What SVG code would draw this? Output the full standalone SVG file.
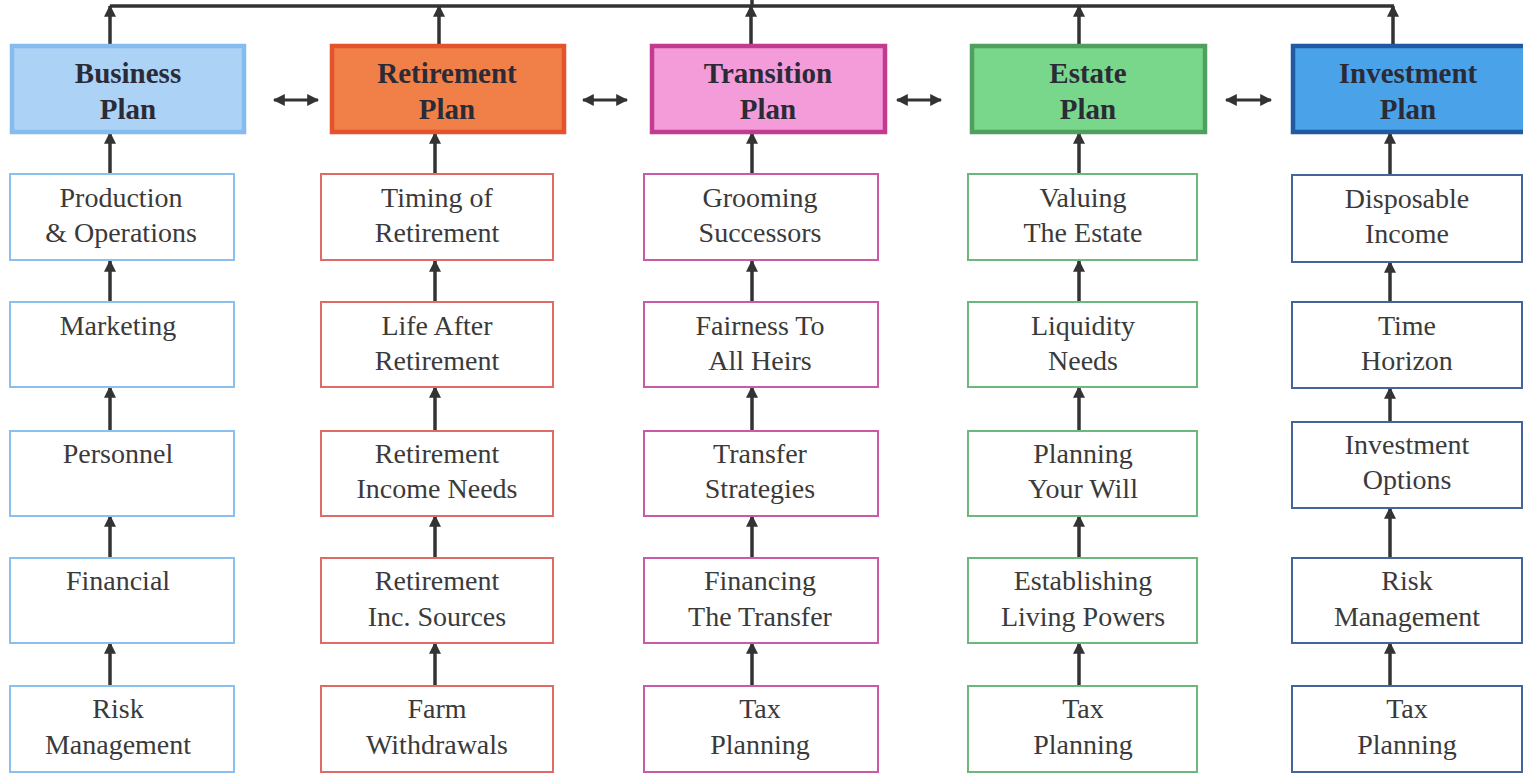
<svg xmlns="http://www.w3.org/2000/svg" width="1523" height="775" viewBox="0 0 1523 775">
<defs>
<marker id="ah" viewBox="0 0 10 10" refX="9" refY="5" markerWidth="12" markerHeight="12" markerUnits="userSpaceOnUse" orient="auto-start-reverse"><path d="M0,0 L10,5 L0,10 z" fill="#333"/></marker>
<style>
.hd{stroke-width:4.5}
.bx{fill:#fff;stroke-width:2}
.ht{font-family:"Liberation Serif",serif;font-weight:bold;font-size:29px;fill:#2b2b38;text-anchor:middle}
.t{font-family:"Liberation Serif",serif;font-size:28px;fill:#3a3a3a;text-anchor:middle}
.c{stroke:#333;stroke-width:3.5;fill:none}
.ca{stroke:#333;stroke-width:3.5;fill:none;marker-end:url(#ah)}
.cd{stroke:#333;stroke-width:3;fill:none;marker-end:url(#ah);marker-start:url(#ah)}
.b1{stroke:#8cc0ec}.b2{stroke:#e06a66}.b3{stroke:#c85aa8}.b4{stroke:#6cb87c}.b5{stroke:#44649e}
</style>
</defs>
<rect width="1523" height="775" fill="#fff"/>
<g id="connectors">
<path class="c" d="M110,6 H1394"/>
<path class="c" d="M752,0 V6"/>
<path class="ca" d="M110,45 V6"/>
<path class="ca" d="M439,45 V6"/>
<path class="ca" d="M751,45 V6"/>
<path class="ca" d="M1079,45 V6"/>
<path class="ca" d="M1393,45 V6"/>
<path class="cd" d="M274,100 H318"/>
<path class="cd" d="M583,100 H627"/>
<path class="cd" d="M897,100 H941"/>
<path class="cd" d="M1226,100 H1271"/>
<path class="ca" d="M110,173 V133"/><path class="ca" d="M110,301 V261"/><path class="ca" d="M110,430 V387"/><path class="ca" d="M110,557 V516"/><path class="ca" d="M110,685 V643"/>
<path class="ca" d="M435,173 V133"/><path class="ca" d="M435,301 V261"/><path class="ca" d="M435,430 V387"/><path class="ca" d="M435,557 V516"/><path class="ca" d="M435,685 V643"/>
<path class="ca" d="M752,173 V133"/><path class="ca" d="M752,301 V261"/><path class="ca" d="M752,430 V387"/><path class="ca" d="M752,557 V516"/><path class="ca" d="M752,685 V643"/>
<path class="ca" d="M1079,173 V133"/><path class="ca" d="M1079,301 V261"/><path class="ca" d="M1079,430 V387"/><path class="ca" d="M1079,557 V516"/><path class="ca" d="M1079,685 V643"/>
<path class="ca" d="M1390,174 V133"/><path class="ca" d="M1390,301 V262"/><path class="ca" d="M1390,421 V388"/><path class="ca" d="M1390,557 V508"/><path class="ca" d="M1390,685 V643"/>
</g>
<g id="business-plan"><rect class="hd" x="12" y="46" width="232" height="86" fill="#acd2f6" stroke="#84bcf0"/><text class="ht" x="128" y="83">Business</text><text class="ht" x="128" y="119">Plan</text></g>
<g id="retirement-plan"><rect class="hd" x="332" y="46" width="232" height="86" fill="#f08048" stroke="#e4522e"/><text class="ht" x="447" y="83">Retirement</text><text class="ht" x="447" y="119">Plan</text></g>
<g id="transition-plan"><rect class="hd" x="652" y="46" width="233" height="86" fill="#f39cd9" stroke="#c33b8e"/><text class="ht" x="768" y="83">Transition</text><text class="ht" x="768" y="119">Plan</text></g>
<g id="estate-plan"><rect class="hd" x="972" y="46" width="233" height="86" fill="#78d78b" stroke="#4fa05e"/><text class="ht" x="1088" y="83">Estate</text><text class="ht" x="1088" y="119">Plan</text></g>
<g id="investment-plan"><rect class="hd" x="1293" y="46" width="234" height="86" fill="#4aa3e8" stroke="#1f5aa2"/><text class="ht" x="1408" y="83">Investment</text><text class="ht" x="1408" y="119">Plan</text></g>

<g id="b-production"><rect class="bx b1" x="10" y="174" width="224" height="86"/><text class="t" x="121" y="207">Production</text><text class="t" x="121" y="242">&amp; Operations</text></g>
<g id="b-marketing"><rect class="bx b1" x="10" y="302" width="224" height="85"/><text class="t" x="118" y="335">Marketing</text></g>
<g id="b-personnel"><rect class="bx b1" x="10" y="431" width="224" height="85"/><text class="t" x="118" y="463">Personnel</text></g>
<g id="b-financial"><rect class="bx b1" x="10" y="558" width="224" height="85"/><text class="t" x="118" y="590">Financial</text></g>
<g id="b-risk"><rect class="bx b1" x="10" y="686" width="224" height="86"/><text class="t" x="118" y="718">Risk</text><text class="t" x="118" y="754">Management</text></g>

<g id="r-timing"><rect class="bx b2" x="321" y="174" width="232" height="86"/><text class="t" x="437" y="207">Timing of</text><text class="t" x="437" y="242">Retirement</text></g>
<g id="r-life"><rect class="bx b2" x="321" y="302" width="232" height="85"/><text class="t" x="437" y="335">Life After</text><text class="t" x="437" y="370">Retirement</text></g>
<g id="r-income-needs"><rect class="bx b2" x="321" y="431" width="232" height="85"/><text class="t" x="437" y="463">Retirement</text><text class="t" x="437" y="498">Income Needs</text></g>
<g id="r-income-sources"><rect class="bx b2" x="321" y="558" width="232" height="85"/><text class="t" x="437" y="590">Retirement</text><text class="t" x="437" y="626">Inc. Sources</text></g>
<g id="r-farm"><rect class="bx b2" x="321" y="686" width="232" height="86"/><text class="t" x="437" y="718">Farm</text><text class="t" x="437" y="754">Withdrawals</text></g>

<g id="t-grooming"><rect class="bx b3" x="644" y="174" width="234" height="86"/><text class="t" x="760" y="207">Grooming</text><text class="t" x="760" y="242">Successors</text></g>
<g id="t-fairness"><rect class="bx b3" x="644" y="302" width="234" height="85"/><text class="t" x="760" y="335">Fairness To</text><text class="t" x="760" y="370">All Heirs</text></g>
<g id="t-transfer"><rect class="bx b3" x="644" y="431" width="234" height="85"/><text class="t" x="760" y="463">Transfer</text><text class="t" x="760" y="498">Strategies</text></g>
<g id="t-financing"><rect class="bx b3" x="644" y="558" width="234" height="85"/><text class="t" x="760" y="590">Financing</text><text class="t" x="760" y="626">The Transfer</text></g>
<g id="t-tax"><rect class="bx b3" x="644" y="686" width="234" height="86"/><text class="t" x="760" y="718">Tax</text><text class="t" x="760" y="754">Planning</text></g>

<g id="e-valuing"><rect class="bx b4" x="968" y="174" width="229" height="86"/><text class="t" x="1083" y="207">Valuing</text><text class="t" x="1083" y="242">The Estate</text></g>
<g id="e-liquidity"><rect class="bx b4" x="968" y="302" width="229" height="85"/><text class="t" x="1083" y="335">Liquidity</text><text class="t" x="1083" y="370">Needs</text></g>
<g id="e-will"><rect class="bx b4" x="968" y="431" width="229" height="85"/><text class="t" x="1083" y="463">Planning</text><text class="t" x="1083" y="498">Your Will</text></g>
<g id="e-powers"><rect class="bx b4" x="968" y="558" width="229" height="85"/><text class="t" x="1083" y="590">Establishing</text><text class="t" x="1083" y="626">Living Powers</text></g>
<g id="e-tax"><rect class="bx b4" x="968" y="686" width="229" height="86"/><text class="t" x="1083" y="718">Tax</text><text class="t" x="1083" y="754">Planning</text></g>

<g id="i-disposable"><rect class="bx b5" x="1292" y="175" width="230" height="87"/><text class="t" x="1407" y="208">Disposable</text><text class="t" x="1407" y="243">Income</text></g>
<g id="i-time"><rect class="bx b5" x="1292" y="302" width="230" height="86"/><text class="t" x="1407" y="335">Time</text><text class="t" x="1407" y="370">Horizon</text></g>
<g id="i-options"><rect class="bx b5" x="1292" y="422" width="230" height="86"/><text class="t" x="1407" y="454">Investment</text><text class="t" x="1407" y="489">Options</text></g>
<g id="i-risk"><rect class="bx b5" x="1292" y="558" width="230" height="85"/><text class="t" x="1407" y="590">Risk</text><text class="t" x="1407" y="626">Management</text></g>
<g id="i-tax"><rect class="bx b5" x="1292" y="686" width="230" height="86"/><text class="t" x="1407" y="718">Tax</text><text class="t" x="1407" y="754">Planning</text></g>
</svg>
